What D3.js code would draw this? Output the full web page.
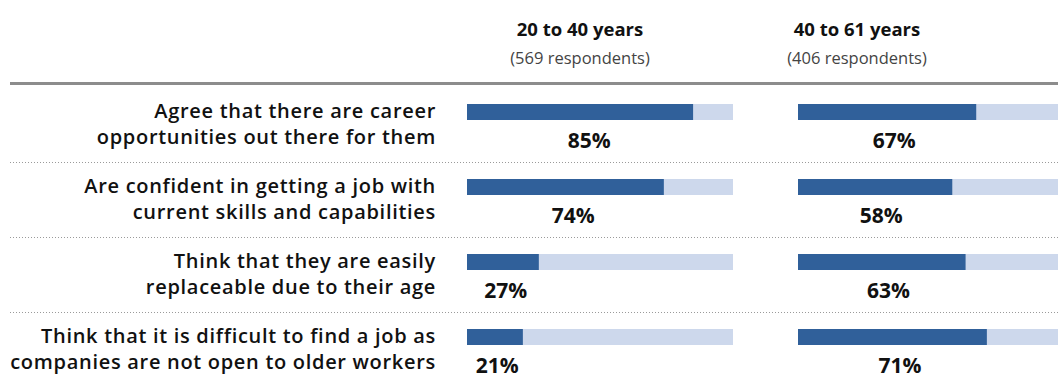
<!DOCTYPE html>
<html><head><meta charset="utf-8">
<script src="https://cdn.jsdelivr.net/npm/d3@7"></script>
<style>body{margin:0;background:#fff}svg{display:block}</style>
</head><body>
<script>
const categories = [
  ["Agree that there are career", "opportunities out there for them"],
  ["Are confident in getting a job with", "current skills and capabilities"],
  ["Think that they are easily", "replaceable due to their age"],
  ["Think that it is difficult to find a job as", "companies are not open to older workers"]
];
const groups = ["20 to 40 years", "40 to 61 years"];
const respondents = ["(569 respondents)", "(406 respondents)"];
const young = [85, 74, 27, 21];
const older = [67, 58, 63, 71];
const series = [young, older];

const W = 1058, H = 378;
const svg = d3.select("body").append("svg").attr("width", W).attr("height", H);
const font = "'Open Sans', sans-serif";

const y = d3.scaleBand().domain(d3.range(categories.length)).range([87, 387]).paddingInner(0);
const xs = [
  d3.scaleLinear().domain([0, 100]).range([467, 733]),
  d3.scaleLinear().domain([0, 100]).range([798, 1064])
];
const headerX = [580, 857];

// header
groups.forEach((g, i) => {
  svg.append("text").attr("x", headerX[i]).attr("y", 36).attr("text-anchor", "middle")
    .attr("font-family", font).attr("font-weight", 700).attr("font-size", 18.5).attr("fill", "#111").text(g);
  svg.append("text").attr("x", headerX[i]).attr("y", 64).attr("text-anchor", "middle")
    .attr("font-family", font).attr("font-weight", 400).attr("font-size", 16.5).attr("fill", "#444").text(respondents[i]);
});
svg.append("line").attr("x1", 10).attr("x2", W).attr("y1", 83.5).attr("y2", 83.5)
  .attr("stroke", "#8c8c8c").attr("stroke-width", 3);

// separators
d3.range(1, categories.length).forEach(i => {
  svg.append("line").attr("x1", 10).attr("x2", W).attr("y1", y(i) + 0.5).attr("y2", y(i) + 0.5)
    .attr("stroke", "#9a9a9a").attr("stroke-width", 1).attr("stroke-dasharray", "1,2");
});

// category labels
categories.forEach((lines, i) => {
  const t = svg.append("text").attr("text-anchor", "end").attr("font-family", font)
    .attr("font-weight", 600).attr("font-size", 20).attr("letter-spacing", 0.7).attr("fill", "#111");
  lines.forEach((l, j) => t.append("tspan").attr("x", 436).attr("y", y(i) + 31 + j * 26).text(l));
});

// bars
series.forEach((vals, s) => {
  const x = xs[s];
  const g = svg.append("g");
  g.selectAll("rect.bg").data(vals).join("rect").attr("class", "bg")
    .attr("x", x(0)).attr("y", (d, i) => y(i) + 17).attr("width", x(100) - x(0)).attr("height", 16)
    .attr("fill", "#cdd8ec");
  g.selectAll("rect.fg").data(vals).join("rect").attr("class", "fg")
    .attr("x", x(0)).attr("y", (d, i) => y(i) + 17).attr("width", d => x(d) - x(0)).attr("height", 16)
    .attr("fill", "#30609a");
  g.selectAll("text").data(vals).join("text")
    .attr("x", d => x(d * 0.54)).attr("y", (d, i) => y(i) + 61)
    .attr("text-anchor", "middle").attr("font-family", font).attr("font-weight", 700)
    .attr("font-size", 21).attr("fill", "#111").text(d => d + "%");
});
</script>
</body></html>
